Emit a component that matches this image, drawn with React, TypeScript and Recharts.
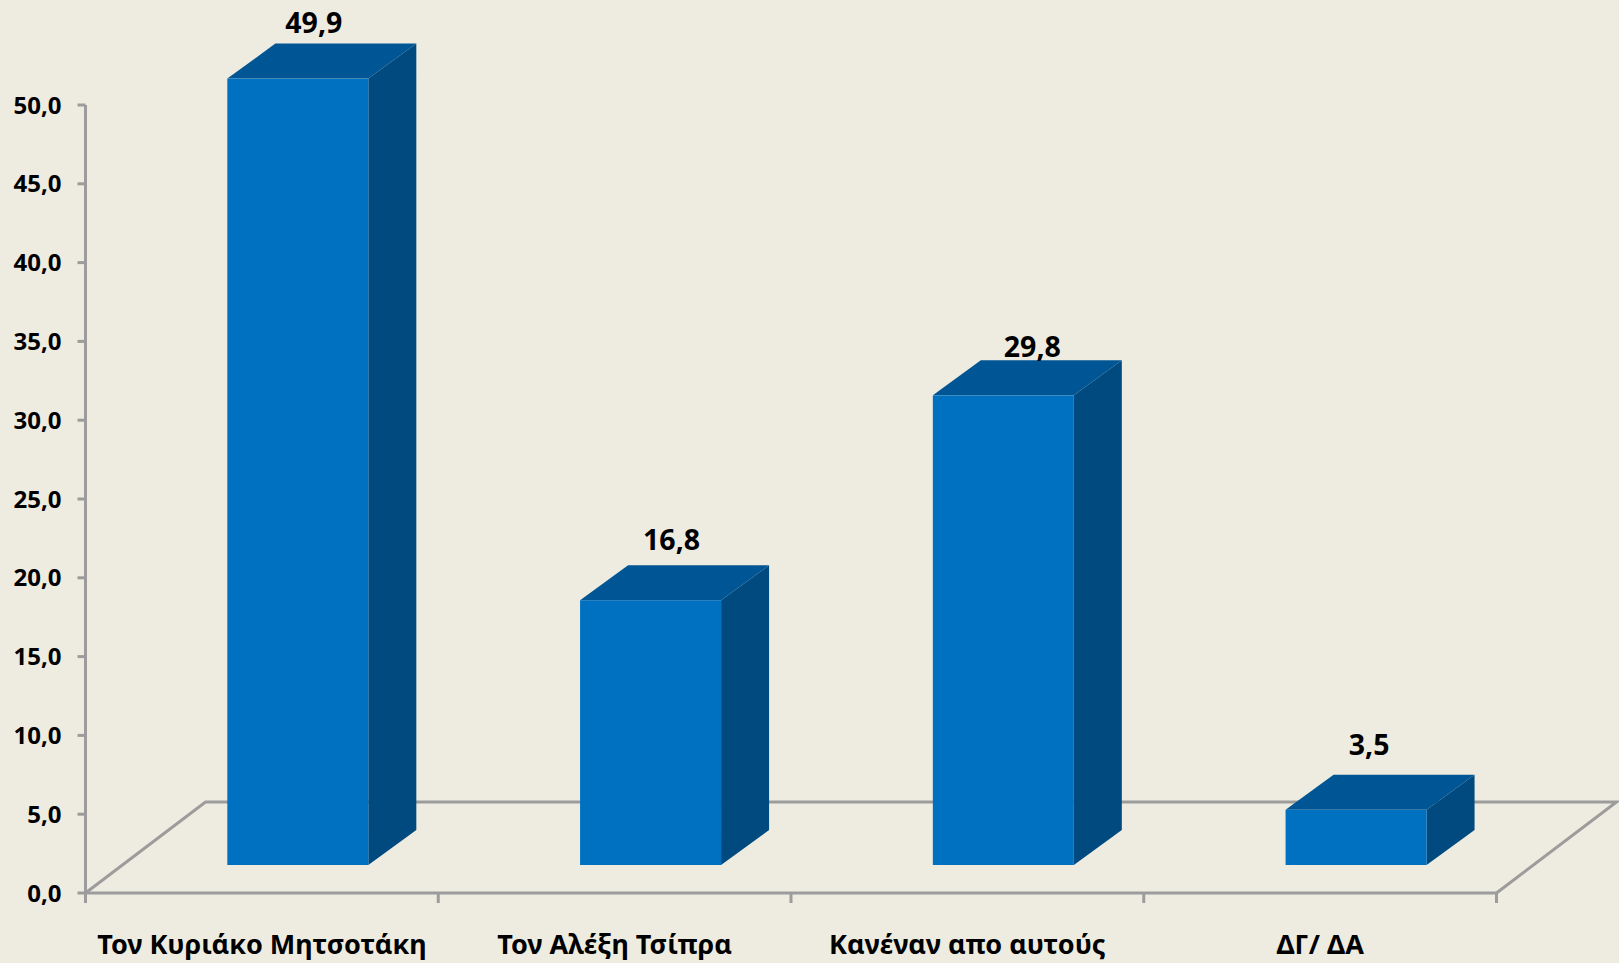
import { BarChart, Bar, XAxis, YAxis, ReferenceArea, LabelList } from "recharts";

const categories = ["Τον Κυριάκο Μητσοτάκη", "Τον Αλέξη Τσίπρα", "Κανέναν απο αυτούς", "ΔΓ/ ΔΑ"];
const values = [49.9, 16.8, 29.8, 3.5];
const yTicks = [0, 5, 10, 15, 20, 25, 30, 35, 40, 45, 50];

const data = categories.map((name, i) => ({ name, value: values[i] }));

const BG = "#eeece1";
const AXIS = "#9c9c9c";
const FRONT = "#0070c0";
const TOP = "#005694";
const SIDE = "#004a80";
const FONT = "'Noto Sans', sans-serif";

// fake 3D: the box sits back from the axis, like the floor
const LIFT_X = 36;
const LIFT_Y = 28;
const DEPTH_X = 48;
const DEPTH_Y = 35;
const FLOOR_X = 120;
const FLOOR_Y = 91;

// value labels were moved by hand in the original
const labelNudge = [
  [16, -22],
  [21, -26],
  [29, -14],
  [13, -31],
];

const fmt = (v: number) => v.toFixed(1).replace(".", ",");

function Box(props: any) {
  const { x, y, width, height } = props;
  const l = x + LIFT_X;
  const r = l + width;
  const t = y - LIFT_Y;
  const b = t + height;
  return (
    <g>
      <polygon fill={SIDE} points={`${r},${t} ${r + DEPTH_X},${t - DEPTH_Y} ${r + DEPTH_X},${b - DEPTH_Y} ${r},${b}`} />
      <polygon fill={TOP} points={`${l},${t} ${l + DEPTH_X},${t - DEPTH_Y} ${r + DEPTH_X},${t - DEPTH_Y} ${r},${t}`} />
      <rect x={l} y={t} width={width} height={height} fill={FRONT} />
    </g>
  );
}

function Floor(props: any) {
  const { x, y, width, height } = props;
  const bottom = y + height;
  const pts = `${x},${bottom} ${x + FLOOR_X},${bottom - FLOOR_Y} ${x + width + FLOOR_X},${bottom - FLOOR_Y} ${x + width},${bottom}`;
  const step = width / categories.length;
  return (
    <g stroke={AXIS} strokeWidth={3}>
      <polyline points={pts} fill="none" />
      {/* ticks sit between the categories, not under them */}
      {[0, 1, 2, 3, 4].map((i) => (
        <line key={i} x1={x + i * step} x2={x + i * step} y1={bottom} y2={bottom + 10} />
      ))}
    </g>
  );
}

function ValueLabel(props: any) {
  const { x, y, width, value, index } = props;
  const [dx, dy] = labelNudge[index];
  return (
    <text
      x={x + LIFT_X + width / 2 + dx}
      y={y - LIFT_Y - DEPTH_Y + dy}
      textAnchor="middle"
      dominantBaseline="central"
      fontFamily={FONT}
      fontWeight={700}
      fontSize={28.5}
      fill="#000"
    >
      {fmt(value)}
    </text>
  );
}

export default function App() {
  return (
    <div style={{ position: "absolute", left: 0, top: 0, width: 1619, height: 963, background: BG, overflow: "hidden" }}>
      <BarChart
        width={1619}
        height={963}
        data={data}
        barCategoryGap="30%"
        margin={{ top: 105, right: 122.5, bottom: 0, left: 0 }}
      >
        <ReferenceArea y1={0} y2={50} shape={Floor} ifOverflow="visible" />
        <XAxis
          dataKey="name"
          height={70}
          stroke={AXIS}
          strokeWidth={3}
          tickSize={10}
          tickLine={false}
          tick={{ fill: "#000", fontFamily: FONT, fontWeight: 700, fontSize: 27 }}
          tickMargin={32}
          interval={0}
        />
        <YAxis
          width={85.5}
          domain={[0, 50]}
          ticks={yTicks}
          tickFormatter={fmt}
          stroke={AXIS}
          strokeWidth={3}
          tickSize={8}
          tickLine={{ stroke: AXIS, strokeWidth: 3 }}
          tick={{ fill: "#000", fontFamily: FONT, fontWeight: 700, fontSize: 24 }}
          tickMargin={16}
        />
        <Bar dataKey="value" shape={Box} isAnimationActive={false}>
          <LabelList dataKey="value" content={ValueLabel} />
        </Bar>
      </BarChart>
    </div>
  );
}
